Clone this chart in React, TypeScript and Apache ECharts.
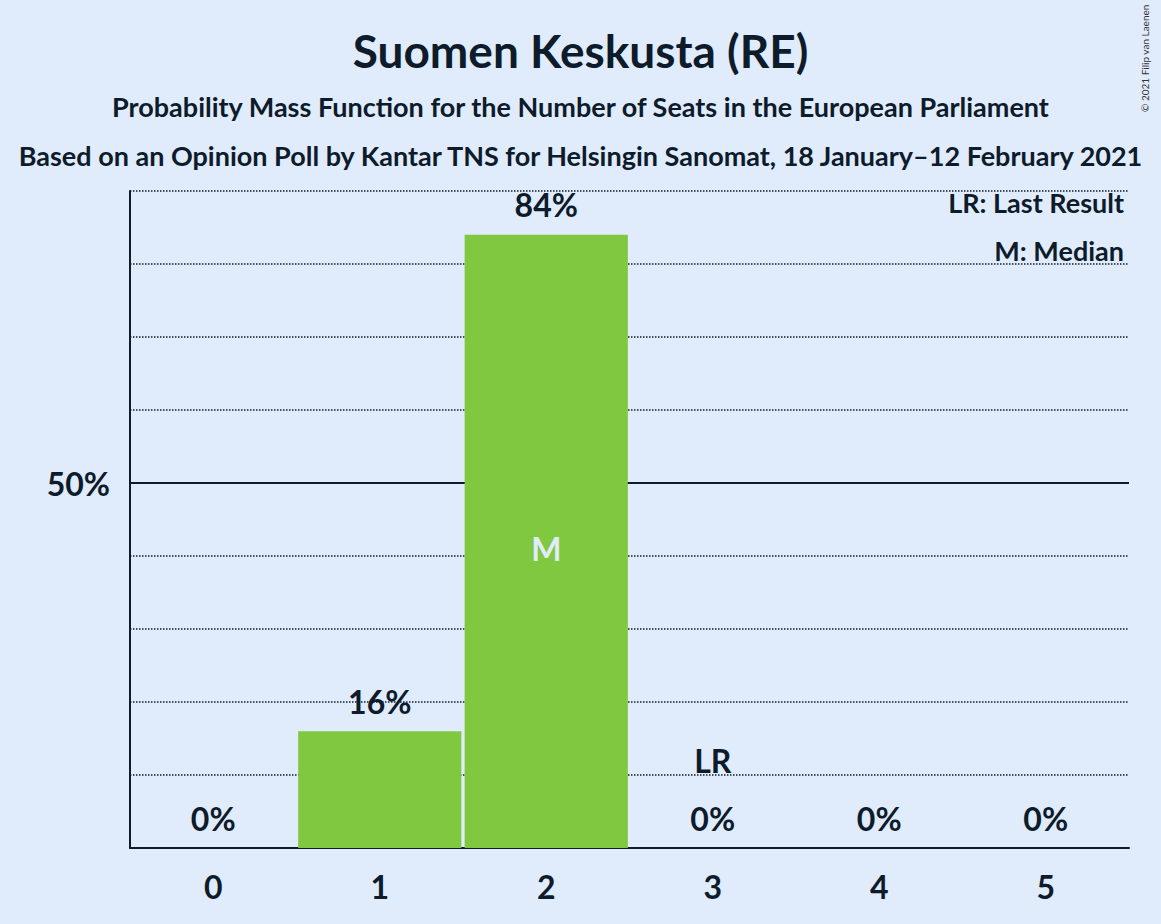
import React, { useEffect, useRef } from "react";
import * as echarts from "echarts";

const categories = ["0", "1", "2", "3", "4", "5"];
const values = [0, 16, 84, 0, 0, 0];
const labels = ["0%", "16%", "84%", "0%", "0%", "0%"];
const F = "Lato, 'Noto Sans', sans-serif";
const C = "#0d1b2a";

export default function App() {
  const ref = useRef<HTMLDivElement>(null);
  useEffect(() => {
    const c = echarts.init(ref.current!, null, { renderer: "svg" });
    c.setOption({
      animation: false,
      backgroundColor: "#e0ecfc",
      title: [
        { text: "Suomen Keskusta (RE)", left: "center", top: 22, textStyle: { fontFamily: F, fontWeight: "bold", fontSize: 46, color: C } },
        { text: "Probability Mass Function for the Number of Seats in the European Parliament", left: "center", top: 88, textStyle: { fontFamily: F, fontWeight: "bold", fontSize: 27, color: C } },
        { text: "Based on an Opinion Poll by Kantar TNS for Helsingin Sanomat, 18 January–12 February 2021", left: "center", top: 137, textStyle: { fontFamily: F, fontWeight: "bold", fontSize: 27, color: C } },
        { text: "LR: Last Result", right: 32, top: 184, textStyle: { fontFamily: F, fontWeight: "bold", fontSize: 27, color: C } },
        { text: "M: Median", right: 32, top: 232, textStyle: { fontFamily: F, fontWeight: "bold", fontSize: 27, color: C } },
      ],
      graphic: [
        { type: "text", x: 1140, y: 112, rotation: Math.PI / 2, style: { text: "© 2021 Filip van Laenen", font: "10px Lato, sans-serif", fill: "#333" } },
      ],
      grid: { left: 130, right: 32, top: 191, bottom: 76 },
      xAxis: {
        type: "category", data: categories,
        axisLine: { lineStyle: { color: C, width: 2 } },
        axisTick: { show: false },
        axisLabel: { fontFamily: F, fontWeight: "bold", fontSize: 32, color: C, margin: 22 },
      },
      yAxis: {
        type: "value", min: 0, max: 90, interval: 10,
        axisLine: { show: true, lineStyle: { color: C, width: 2 } },
        axisTick: { show: false },
        axisLabel: { formatter: (v: number) => (v === 50 ? "50%" : ""), fontFamily: F, fontWeight: "bold", fontSize: 32, color: C, margin: 20 },
        splitLine: { lineStyle: { type: "dotted", color: C, width: 1.5 } },
      },
      series: [
        {
          type: "line", data: [], z: 1,
          markLine: { z: 1, silent: true, symbol: "none", label: { show: false }, lineStyle: { type: "solid", color: C, width: 2 }, data: [{ yAxis: 50 }] },
        },
        {
          type: "bar", z: 3, data: values, barWidth: "98%",
          itemStyle: { color: "#80c840" },
          label: { show: true, position: "top", distance: 14, formatter: (p: any) => labels[p.dataIndex], fontFamily: F, fontWeight: "bold", fontSize: 32, color: C },
          markPoint: {
            z: 6, symbol: "rect", symbolSize: 1, itemStyle: { color: "transparent" },
            data: [
              { coord: ["2", 41], label: { show: true, formatter: "M", fontFamily: F, fontWeight: "bold", fontSize: 32, color: "#e0ecfc" } },
              { coord: ["3", 12], label: { show: true, formatter: "LR", fontFamily: F, fontWeight: "bold", fontSize: 32, color: C } },
            ],
          },
        },
      ],
    });
    return () => c.dispose();
  }, []);
  return <div ref={ref} style={{ width: 1161, height: 924, position: "absolute", left: 0, top: 0 }} />;
}
